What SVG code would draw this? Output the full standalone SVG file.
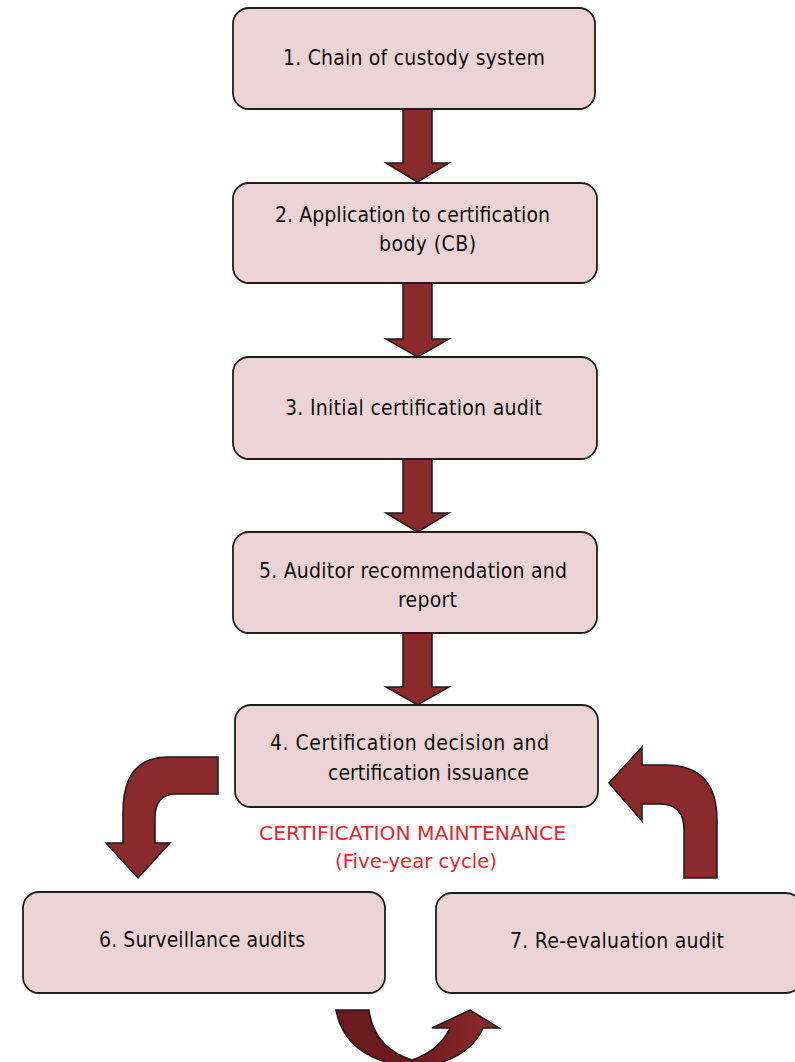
<svg xmlns="http://www.w3.org/2000/svg" width="795" height="1062" viewBox="0 0 795 1062">
<defs>
<style>
.box{fill:#ecd4d6;stroke:#1e1e1e;stroke-width:1.8}
.t{font-family:"DejaVu Sans Condensed","DejaVu Sans","Liberation Sans",sans-serif;font-size:21px;fill:#0d0d0d}
.r{font-family:"DejaVu Sans","Liberation Sans",sans-serif;font-size:19.5px;fill:#e5262b}
.arr{fill:#8b2a2c;stroke:#1a1a1a;stroke-width:1.5;stroke-linejoin:miter}
</style>
<linearGradient id="ug" x1="0" y1="0" x2="1" y2="0">
<stop offset="0" stop-color="#6a1a1c"/>
<stop offset="0.5" stop-color="#701b1d"/>
<stop offset="1" stop-color="#8e2c2e"/>
</linearGradient>
</defs>
<rect width="795" height="1062" fill="#ffffff"/>
<g id="connectors">
<path class="arr" d="M403,109 L432,109 L432,163 L449,163 L417.5,182 L386,163 L403,163 Z"/>
<path class="arr" d="M403,283 L432,283 L432,339 L449,339 L417.5,357 L386,339 L403,339 Z"/>
<path class="arr" d="M403,459 L432,459 L432,513 L449,513 L417.5,532 L386,513 L403,513 Z"/>
<path class="arr" d="M403,633 L432,633 L432,687 L449,687 L417.5,705 L386,687 L403,687 Z"/>
<path class="arr" d="M218,757 L168,757 Q123,757 123,812 L123,843 L106,843 L138,878 L170,843 L155,843 L155,818 Q155,794 176,794 L218,794 Z"/>
<path class="arr" d="M609,783 L642,747 L642,765 L665,765 Q717,765 717,820 L717,878 L684,878 L684,830 Q684,804 660,804 L642,804 L642,821 Z"/>
<path class="arr" style="fill:url(#ug)" d="M336,1010 L369,1010 Q374,1048 412,1060 Q440,1050 450,1028 L432,1028 L470,1010 L499,1028 L483,1028 Q468,1062 414,1068 Q345,1060 336,1010 Z"/>
</g>
<g id="node1">
<rect class="box" x="233" y="8" width="362" height="101" rx="16"/>
<text class="t" x="283" y="65" textLength="262" lengthAdjust="spacing">1. Chain of custody system</text>
</g>
<g id="node2">
<rect class="box" x="233" y="183" width="364" height="100" rx="16"/>
<text class="t" x="275" y="222" textLength="275" lengthAdjust="spacing">2. Application to certification</text>
<text class="t" x="379" y="251" textLength="97" lengthAdjust="spacing">body (CB)</text>
</g>
<g id="node3">
<rect class="box" x="233" y="357" width="364" height="102" rx="16"/>
<text class="t" x="285" y="415" textLength="257" lengthAdjust="spacing">3. Initial certification audit</text>
</g>
<g id="node5">
<rect class="box" x="233" y="532" width="364" height="101" rx="16"/>
<text class="t" x="259" y="578" textLength="308" lengthAdjust="spacing">5. Auditor recommendation and</text>
<text class="t" x="398" y="607" textLength="59" lengthAdjust="spacing">report</text>
</g>
<g id="node4">
<rect class="box" x="235" y="705" width="363" height="102" rx="16"/>
<text class="t" x="270" y="750" textLength="279" lengthAdjust="spacing">4. Certification decision and</text>
<text class="t" x="328" y="780" textLength="201" lengthAdjust="spacing">certification issuance</text>
</g>
<g id="label">
<text class="r" x="259" y="840" textLength="307" lengthAdjust="spacingAndGlyphs">CERTIFICATION MAINTENANCE</text>
<text class="r" x="335" y="868" textLength="162" lengthAdjust="spacingAndGlyphs">(Five-year cycle)</text>
</g>
<g id="node6">
<rect class="box" x="23" y="892" width="362" height="101" rx="16"/>
<text class="t" x="99" y="947" textLength="206" lengthAdjust="spacing">6. Surveillance audits</text>
</g>
<g id="node7">
<rect class="box" x="436" y="893" width="366" height="100" rx="16"/>
<text class="t" x="510" y="948" textLength="214" lengthAdjust="spacing">7. Re-evaluation audit</text>
</g>
</svg>
